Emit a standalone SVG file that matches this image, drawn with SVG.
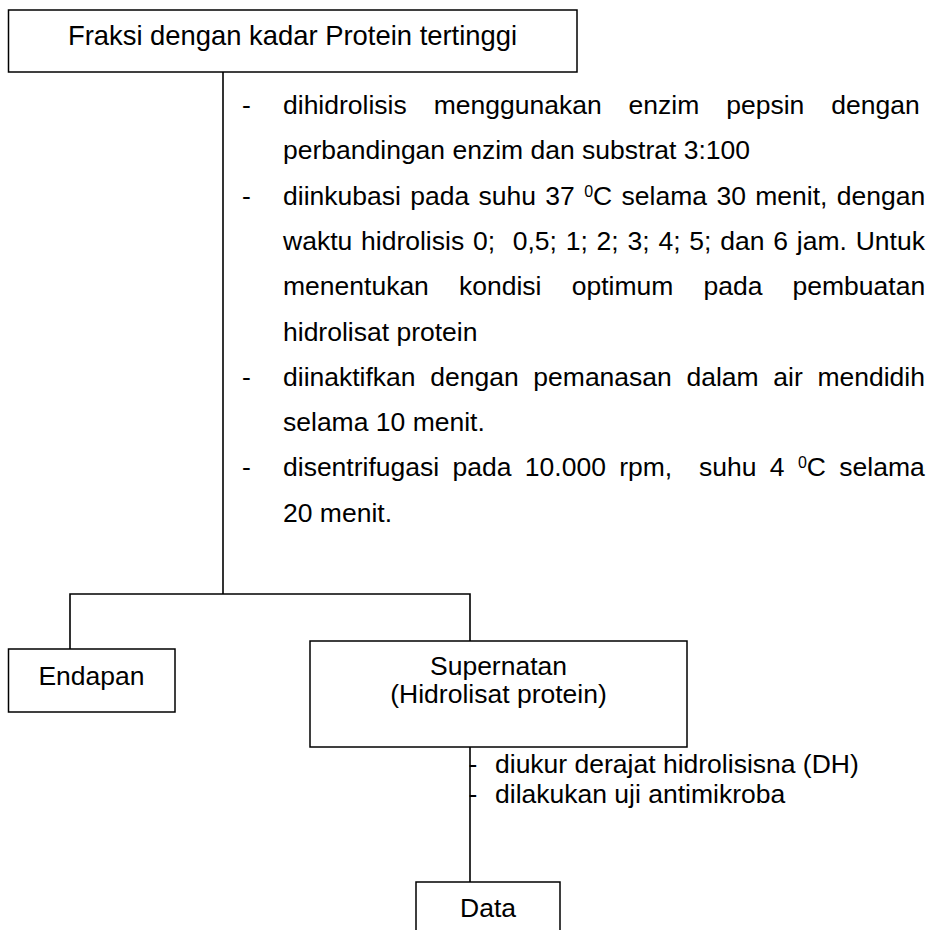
<svg xmlns="http://www.w3.org/2000/svg" width="931" height="930" viewBox="0 0 931 930">
  <style>
    .box { fill: #ffffff; stroke: #000000; stroke-width: 1.5; }
    .wire { fill: none; stroke: #000000; stroke-width: 1.6; }
    text { font-family: "Liberation Sans", Arial, sans-serif; font-size: 26.5px; fill: #000000; }
    .mid { text-anchor: middle; }
    .title { font-size: 27.4px; }
    .sup { font-size: 16px; }
  </style>
  <rect width="931" height="930" fill="#ffffff"/>

  <!-- connectors -->
  <g id="connectors">
    <polyline class="wire" points="223,72 223,594"/>
    <polyline class="wire" points="70,649 70,594 470,594 470,641"/>
    <polyline class="wire" points="470,747 470,882"/>
  </g>

  <!-- process steps along the main trunk -->
  <g id="steps-hydrolysis">
    <text x="242" y="114">-</text>
    <text x="283" y="114" word-spacing="19.6">dihidrolisis menggunakan enzim pepsin dengan</text>
    <text x="283" y="159.3">perbandingan enzim dan substrat 3:100</text>
    <text x="242" y="204.6">-</text>
    <text x="283" y="204.6" word-spacing="2">diinkubasi pada suhu 37 <tspan class="sup" baseline-shift="super">0</tspan>C selama 30 menit, dengan</text>
    <text x="283" y="249.9" word-spacing="1.45">waktu hidrolisis 0;&#160; 0,5; 1; 2; 3; 4; 5; dan 6 jam. Untuk</text>
    <text x="283" y="295.2" word-spacing="22.8">menentukan kondisi optimum pada pembuatan</text>
    <text x="283" y="340.5">hidrolisat protein</text>
    <text x="242" y="385.8">-</text>
    <text x="283" y="385.8" word-spacing="7.3">diinaktifkan dengan pemanasan dalam air mendidih</text>
    <text x="283" y="431.1">selama 10 menit.</text>
    <text x="242" y="476.4">-</text>
    <text x="283" y="476.4" word-spacing="6">disentrifugasi pada 10.000 rpm,&#160; suhu 4 <tspan class="sup" baseline-shift="super">0</tspan>C selama</text>
    <text x="283" y="521.7">20 menit.</text>
  </g>

  <!-- nodes -->
  <g id="node-fraksi">
    <rect class="box" x="8.5" y="10" width="568.5" height="62"/>
    <text class="mid title" x="292.5" y="45">Fraksi dengan kadar Protein tertinggi</text>
  </g>

  <g id="node-endapan">
    <rect class="box" x="8.5" y="649" width="166.5" height="63"/>
    <text class="mid" x="91.5" y="685">Endapan</text>
  </g>

  <g id="node-supernatan">
    <rect class="box" x="310" y="641" width="377" height="106"/>
    <text class="mid" x="498.5" y="675">Supernatan</text>
    <text class="mid" x="498.5" y="703">(Hidrolisat protein)</text>
  </g>

  <g id="steps-analysis">
    <text x="468.5" y="773">-</text>
    <text x="495" y="773">diukur derajat hidrolisisna (DH)</text>
    <text x="468.5" y="803">-</text>
    <text x="495" y="803">dilakukan uji antimikroba</text>
  </g>

  <g id="node-data">
    <rect class="box" x="416" y="882" width="144" height="60"/>
    <text class="mid" x="488" y="917">Data</text>
  </g>
</svg>
